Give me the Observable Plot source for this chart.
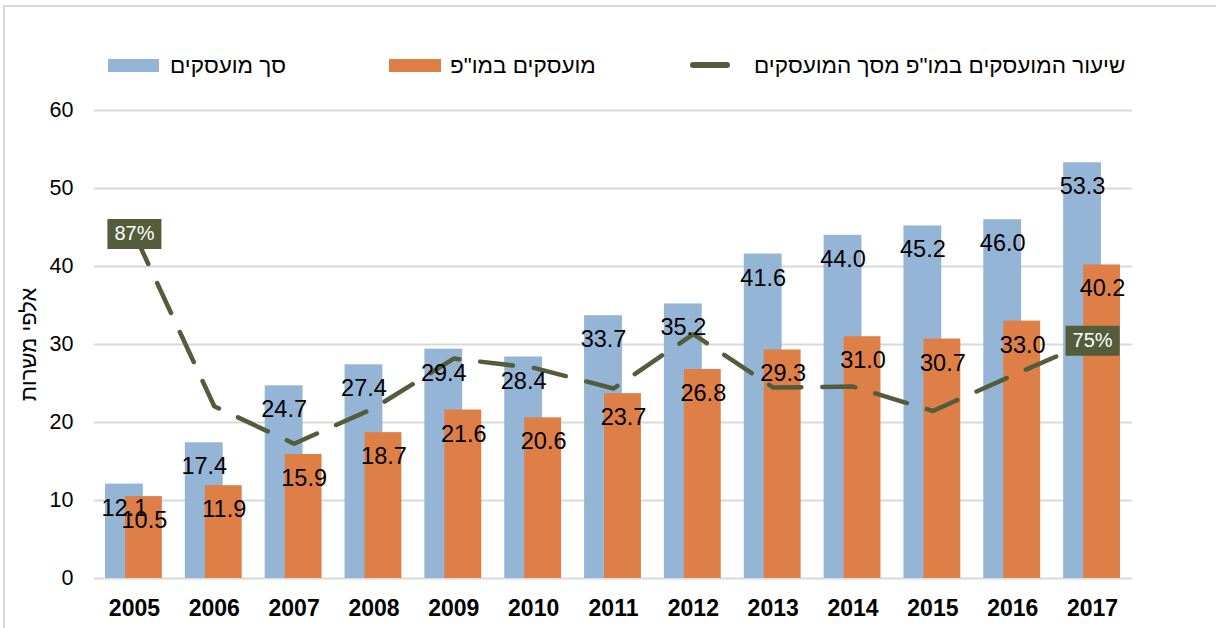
<!DOCTYPE html>
<html><head><meta charset="utf-8">
<script src="https://cdn.jsdelivr.net/npm/d3@7"></script>
<script src="https://cdn.jsdelivr.net/npm/@observablehq/plot@0.6"></script>
<style>
html,body{margin:0;padding:0}
body{width:1216px;height:628px;overflow:hidden;background:#fff;font-family:"Liberation Sans",Arial,sans-serif;position:relative}
#frame{position:absolute;left:3px;top:5px;width:1400px;height:800px;border:2px solid #d9d9d9;box-sizing:border-box}
#chart{position:absolute;left:0;top:0}
.leg{position:absolute;top:52px;font-size:22.5px;line-height:28px;color:#000;white-space:nowrap;direction:rtl}
.sw{position:absolute}
</style></head><body>
<div id="frame"></div>
<div id="chart"></div>
<div id="legend"></div>
<script>
// ---- data ----
const years = [2005, 2006, 2007, 2008, 2009, 2010, 2011, 2012, 2013, 2014, 2015, 2016, 2017];
const totalEmployed = [12.1, 17.4, 24.7, 27.4, 29.4, 28.4, 33.7, 35.2, 41.6, 44.0, 45.2, 46.0, 53.3];
const rndEmployed   = [10.5, 11.9, 15.9, 18.7, 21.6, 20.6, 23.7, 26.8, 29.3, 31.0, 30.7, 33.0, 40.2];
const rndShare      = [86.8, 68.4, 64.4, 68.2, 73.5, 72.5, 70.3, 76.1, 70.4, 70.5, 67.9, 71.7, 75.4]; // % (secondary axis 50–100)
const shareLabels   = ["87%", "", "", "", "", "", "", "", "", "", "", "", "75%"];
const yTicks = [0, 10, 20, 30, 40, 50, 60];
const seriesNames = ["סך מועסקים", "מועסקים במו\"פ", "שיעור המועסקים במו\"פ מסך המועסקים"];
const axisLabel = "אלפי משרות";

const blue = "#95b5d6", orange = "#de7f47", olive = "#535c3b";
const font = "'Liberation Sans', Arial, sans-serif";

// secondary axis (50%–100%) mapped onto the primary 0–60 range
const secMin = 50, secMax = 100, priMax = 60;
const toPrimary = s => (s - secMin) / (secMax - secMin) * priMax;

const data = years.map((y, i) => ({
  year: String(y), total: totalEmployed[i], rnd: rndEmployed[i],
  share: rndShare[i], label: shareLabels[i]
}));

const boxSymbol = {draw(ctx) { ctx.rect(-27, -15, 54, 30); }};

const chart = Plot.plot({
  width: 1216, height: 628,
  marginLeft: 94, marginRight: 84, marginTop: 110, marginBottom: 50,
  style: {fontFamily: font, background: "transparent", overflow: "visible", color: "#000"},
  x: {type: "band", domain: years.map(String), paddingInner: 0, paddingOuter: 0, round: false, axis: null},
  y: {domain: [0, 60], axis: null},
  marks: [
    Plot.gridY(yTicks, {stroke: "#d9d9d9", strokeOpacity: 1, strokeWidth: 2}),
    Plot.axisY(yTicks, {tickSize: 0, tickPadding: 21, fontSize: 21.5, fill: "#000", label: null}),
    Plot.axisX({tickSize: 0, tickPadding: 21, fontSize: 23, fontWeight: "bold", fill: "#000", label: null}),
    Plot.text([axisLabel], {frameAnchor: "left", textAnchor: "middle", dx: -66, rotate: -90, fontSize: 22, fill: "#000"}),
    Plot.barY(data, {x: "year", y: "total", fill: blue, insetLeft: 11, insetRight: 31}),
    Plot.barY(data, {x: "year", y: "rnd", fill: orange, insetLeft: 31, insetRight: 12}),
    Plot.line(data, {x: "year", y: d => toPrimary(d.share), stroke: olive, strokeWidth: 4.5,
      strokeDasharray: "33,21", strokeLinecap: "round", strokeLinejoin: "round"}),
    Plot.text(data, {x: "year", y: "total", text: d => d.total.toFixed(1), dx: -10, dy: 24, fontSize: 23.5, fill: "#000"}),
    Plot.text(data, {x: "year", y: "rnd", text: d => d.rnd.toFixed(1), dx: 10, dy: 24, fontSize: 23.5, fill: "#000"}),
    Plot.dot(data.filter(d => d.label), {x: "year", y: d => toPrimary(d.share), symbol: boxSymbol, fill: olive, stroke: "none", r: 10}),
    Plot.text(data.filter(d => d.label), {x: "year", y: d => toPrimary(d.share), text: "label", fill: "#fff", fontSize: 20})
  ]
});
document.getElementById("chart").appendChild(chart);

// legend
const legend = document.getElementById("legend");
const legItems = [
  {name: seriesNames[0], sw: {left: 108, top: 59, width: 51, height: 13, background: blue}, textLeft: 170},
  {name: seriesNames[1], sw: {left: 389, top: 59, width: 52, height: 13, background: orange}, textLeft: 450},
  {name: seriesNames[2], sw: {left: 690, top: 62, width: 40, height: 6, background: olive, borderRadius: 3}, textLeft: 754}
];
for (const it of legItems) {
  const s = document.createElement("div");
  s.className = "sw";
  for (const [k, v] of Object.entries(it.sw)) s.style[k] = typeof v === "number" ? v + "px" : v;
  legend.appendChild(s);
  const t = document.createElement("div");
  t.className = "leg";
  t.style.left = it.textLeft + "px";
  t.textContent = it.name;
  legend.appendChild(t);
}
</script>
</body></html>
